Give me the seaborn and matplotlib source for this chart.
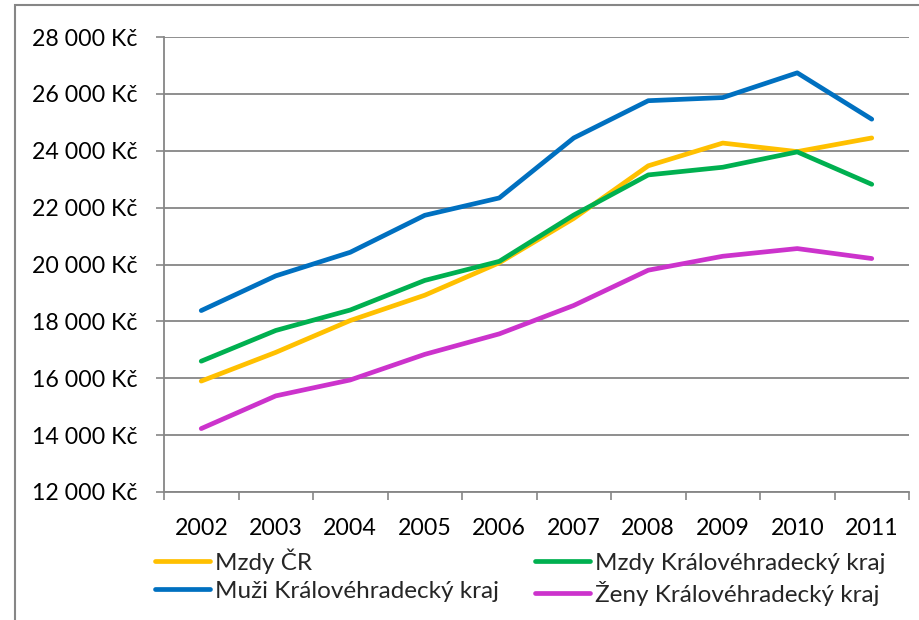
import matplotlib
matplotlib.use("Agg")
import matplotlib.pyplot as plt
import seaborn as sns
import pandas as pd
from matplotlib.patches import Rectangle
from matplotlib.lines import Line2D
from matplotlib.ticker import FixedLocator, FuncFormatter

years = ["2002", "2003", "2004", "2005", "2006", "2007", "2008", "2009", "2010", "2011"]
mzdy_cr = [15900, 16910, 18030, 18920, 20060, 21620, 23470, 24270, 23970, 24450]
mzdy_khk = [16600, 17680, 18400, 19440, 20110, 21740, 23150, 23420, 23960, 22820]
muzi_khk = [18380, 19600, 20430, 21730, 22340, 24450, 25760, 25870, 26740, 25110]
zeny_khk = [14230, 15380, 15940, 16840, 17560, 18560, 19800, 20290, 20560, 20210]
series_names = ["Mzdy ČR", "Mzdy Královéhradecký kraj", "Muži Královéhradecký kraj", "Ženy Královéhradecký kraj"]
colors = ["#FFC000", "#00B050", "#0070C0", "#CC33CC"]

rows = []
for name, vals in zip(series_names, [mzdy_cr, mzdy_khk, muzi_khk, zeny_khk]):
    for i, (y, v) in enumerate(zip(years, vals)):
        rows.append({"idx": i, "year": y, "value": v, "series": name})
df = pd.DataFrame(rows)

sns.set_theme(style="white")
plt.rcParams["font.family"] = ["Lato", "DejaVu Sans"]

W, H = 919, 620
fig = plt.figure(figsize=(W / 100, H / 100), dpi=100)
ax = fig.add_axes([164 / W, 1 - 492 / H, 745 / W, 455 / H])

sns.lineplot(data=df, x="idx", y="value", hue="series", hue_order=series_names,
             palette=colors, ax=ax, linewidth=3.4, legend=False, sort=False)
for ln in ax.get_lines():
    ln.set_solid_capstyle("round")
    ln.set_solid_joinstyle("round")

gray = "#868686"
FS = 16.7
ax.set_xlim(-0.5, len(years) - 0.5)
ax.set_ylim(12000, 28000)
ax.set_yticks(range(12000, 28001, 2000))
ax.yaxis.set_major_formatter(FuncFormatter(lambda v, p: f"{int(v):,} Kč".replace(",", " ")))
ax.xaxis.set_major_locator(FixedLocator([i - 0.5 for i in range(len(years) + 1)]))
ax.xaxis.set_minor_locator(FixedLocator(list(range(len(years)))))
ax.set_xticklabels([])
ax.set_xticklabels(years, minor=True)
ax.tick_params(axis="x", which="major", length=6, width=1.2, color=gray, direction="out", bottom=True)
ax.tick_params(axis="x", which="minor", length=0, labelsize=FS, pad=19, colors="black")
ax.tick_params(axis="y", which="major", length=6, width=1.2, color=gray, direction="out", left=True,
               labelsize=FS, pad=13, labelcolor="black")
ax.grid(axis="y", color=gray, linewidth=1.3)
ax.grid(axis="x", visible=False)
ax.set_axisbelow(True)
for s in ["top", "right"]:
    ax.spines[s].set_visible(False)
for s in ["left", "bottom"]:
    ax.spines[s].set_color(gray)
    ax.spines[s].set_linewidth(1.3)
ax.set_xlabel("")
ax.set_ylabel("")

# legend (column-major order to match rows)
order = [0, 2, 1, 3]
handles = [Line2D([0], [0], color=colors[i], lw=3.4, solid_capstyle="round") for i in order]
labels = [series_names[i] for i in order]
fig.legend(handles, labels, ncol=2, loc="upper left", bbox_to_anchor=(155 / W, 1 - 548 / H),
           frameon=False, fontsize=17.5, handlelength=2.26, handletextpad=0.2, columnspacing=1.5,
           labelspacing=0.29, borderaxespad=0, borderpad=0)

# outer chart frame
fig.patches.append(Rectangle((15 / W, -0.1), 1.0, 1 - 5 / H + 0.1, transform=fig.transFigure,
                             fill=False, edgecolor=gray, linewidth=1.5))

fig.savefig("out.png", dpi=100)
